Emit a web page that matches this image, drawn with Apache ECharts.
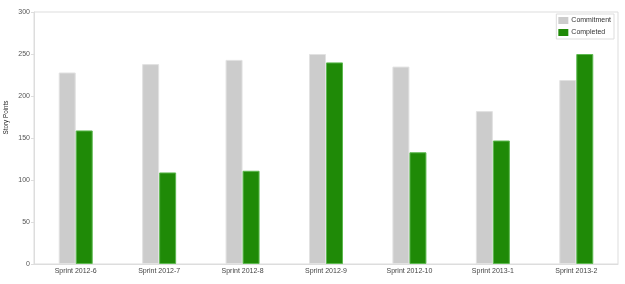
<!DOCTYPE html>
<html>
<head>
<meta charset="utf-8">
<script src="https://cdn.jsdelivr.net/npm/echarts@6/dist/echarts.min.js"></script>
<style>html,body{margin:0;padding:0;background:#fff}#c{width:625px;height:284px}</style>
</head>
<body>
<div id="c"></div>
<script>
const categories = ['Sprint 2012-6','Sprint 2012-7','Sprint 2012-8','Sprint 2012-9','Sprint 2012-10','Sprint 2013-1','Sprint 2013-2'];
const commitment = [228, 238, 243, 250, 235, 182, 219];
const completed = [159, 109, 111, 240, 133, 147, 250];
const yTicks = [0, 50, 100, 150, 200, 250, 300];

const chart = echarts.init(document.getElementById('c'), null, {renderer: 'canvas'});
const font = 'Liberation Sans, Arial, Helvetica, sans-serif';
chart.setOption({
  animation: false,
  textStyle: {fontFamily: font},
  grid: {left: 34, right: 7, top: 12, bottom: 20, containLabel: false, outerBoundsMode: 'none',
         show: true, borderColor: '#ddd', borderWidth: 1},
  legend: {
    orient: 'vertical', right: 11, top: 14, padding: [3, 3, 3, 2],
    borderColor: '#ddd', borderWidth: 1, itemGap: 5,
    itemWidth: 10, itemHeight: 7,
    itemStyle: {borderWidth: 0},
    textStyle: {fontSize: 7, color: '#333', fontFamily: font, padding: [0, 0, 0, -2]},
    data: [{name: 'Commitment', icon: 'rect'}, {name: 'Completed', icon: 'rect'}]
  },
  graphic: [{
    type: 'text', x: 6, y: 117.5, rotation: Math.PI / 2,
    style: {text: 'Story Points', fontSize: 6.3, fontFamily: font, fill: '#222', align: 'center', verticalAlign: 'middle'}
  }],
  xAxis: {
    type: 'category', data: categories,
    axisLine: {lineStyle: {color: '#ddd'}},
    axisTick: {alignWithLabel: true, length: 3, lineStyle: {color: '#ddd'}},
    axisLabel: {fontSize: 7, color: '#444', margin: 4, fontFamily: font}
  },
  yAxis: {
    type: 'value', min: yTicks[0], max: yTicks[yTicks.length - 1], interval: 50,
    axisLine: {show: true, lineStyle: {color: '#ddd'}},
    axisTick: {show: true, length: 3, lineStyle: {color: '#ddd'}},
    splitLine: {show: false},
    axisLabel: {fontSize: 7, color: '#555', margin: 4, fontFamily: font}
  },
  series: [
    {name: 'Commitment', type: 'bar', data: commitment, barWidth: 17, barGap: '0%',
     itemStyle: {color: '#cccccc', borderColor: '#e2e2e2', borderWidth: 1}},
    {name: 'Completed', type: 'bar', data: completed, barWidth: 17, barGap: '0%',
     itemStyle: {color: '#1f8a07', borderColor: '#5db84f', borderWidth: 1}}
  ]
});
</script>
</body>
</html>
